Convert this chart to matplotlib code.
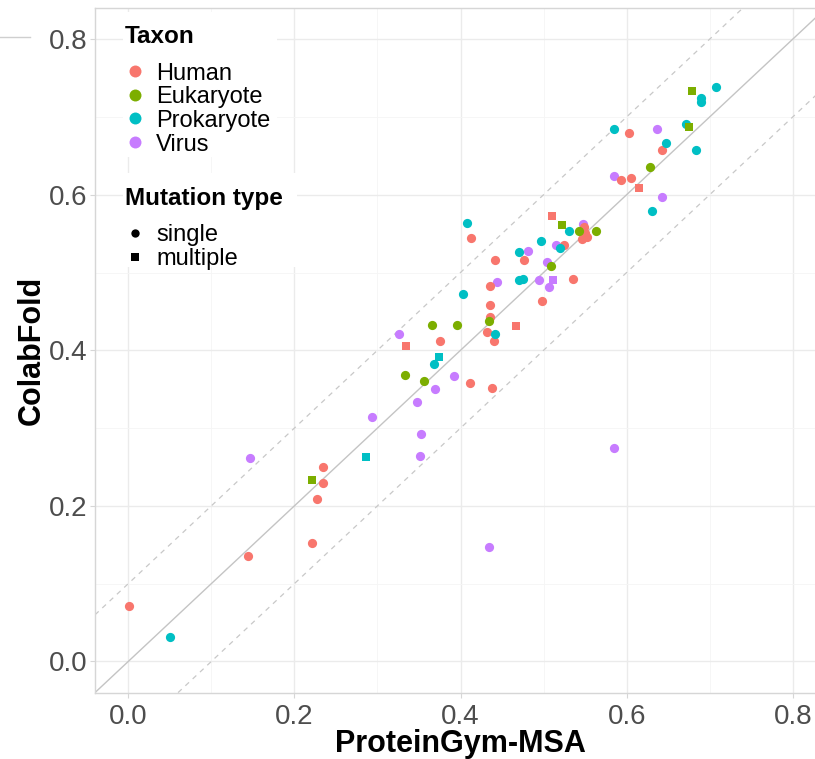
import matplotlib
matplotlib.use("Agg")
import matplotlib.pyplot as plt
from matplotlib.patches import Rectangle
from matplotlib.lines import Line2D
import numpy as np

plt.rcParams['font.family'] = ['Liberation Sans', 'DejaVu Sans']

# ---------------- data ----------------
taxa = ['Human', 'Eukaryote', 'Prokaryote', 'Virus']
taxon_colors = ['#F8766D', '#7CAE00', '#00BFC4', '#C77CFF']
mutation_types = ['single', 'multiple']

human_single_x = [0.001, 0.144, 0.221, 0.227, 0.234, 0.235, 0.375, 0.412, 0.435, 0.436,
                  0.432, 0.440, 0.438, 0.498, 0.413, 0.441, 0.436, 0.477, 0.525, 0.536,
                  0.549, 0.546, 0.552, 0.550, 0.603, 0.643, 0.593, 0.605]
human_single_y = [0.071, 0.136, 0.152, 0.209, 0.229, 0.250, 0.412, 0.358, 0.458, 0.443,
                  0.423, 0.412, 0.352, 0.463, 0.544, 0.516, 0.483, 0.516, 0.535, 0.492,
                  0.559, 0.543, 0.546, 0.551, 0.679, 0.658, 0.619, 0.622]
human_multi_x = [0.334, 0.467, 0.510, 0.615]
human_multi_y = [0.405, 0.431, 0.573, 0.608]

euk_single_x = [0.333, 0.356, 0.366, 0.396, 0.434, 0.509, 0.543, 0.563, 0.628]
euk_single_y = [0.368, 0.361, 0.433, 0.433, 0.438, 0.509, 0.553, 0.553, 0.636]
euk_multi_x = [0.221, 0.522, 0.679, 0.675]
euk_multi_y = [0.233, 0.561, 0.733, 0.687]

prok_single_x = [0.050, 0.368, 0.442, 0.408, 0.403, 0.471, 0.470, 0.475, 0.497, 0.520,
                 0.531, 0.707, 0.690, 0.690, 0.672, 0.585, 0.647, 0.684, 0.631]
prok_single_y = [0.031, 0.382, 0.421, 0.563, 0.472, 0.526, 0.491, 0.492, 0.540, 0.532,
                 0.553, 0.739, 0.724, 0.719, 0.691, 0.685, 0.666, 0.657, 0.579]
prok_multi_x = [0.286, 0.374]
prok_multi_y = [0.263, 0.391]

virus_single_x = [0.146, 0.293, 0.326, 0.348, 0.352, 0.351, 0.369, 0.392, 0.585, 0.434,
                  0.444, 0.481, 0.495, 0.515, 0.504, 0.507, 0.548, 0.637, 0.585, 0.643]
virus_single_y = [0.262, 0.314, 0.421, 0.333, 0.293, 0.264, 0.350, 0.367, 0.274, 0.147,
                  0.488, 0.527, 0.490, 0.535, 0.513, 0.481, 0.562, 0.684, 0.624, 0.597]
virus_multi_x = [0.511]
virus_multi_y = [0.490]

# drawing order (later = on top)
series = [
    (virus_single_x, virus_single_y, 3, 'single'),
    (virus_multi_x, virus_multi_y, 3, 'multiple'),
    (human_single_x, human_single_y, 0, 'single'),
    (human_multi_x, human_multi_y, 0, 'multiple'),
    (prok_single_x, prok_single_y, 2, 'single'),
    (prok_multi_x, prok_multi_y, 2, 'multiple'),
    (euk_single_x, euk_single_y, 1, 'single'),
    (euk_multi_x, euk_multi_y, 1, 'multiple'),
]

ticks = [0.0, 0.2, 0.4, 0.6, 0.8]
minor_ticks = [0.1, 0.3, 0.5, 0.7]
tick_labels = ['0.0', '0.2', '0.4', '0.6', '0.8']

# ---------------- figure ----------------
W, H = 815, 759
fig = plt.figure(figsize=(W / 100, H / 100), dpi=100)
fig.patch.set_facecolor('white')

def fx(px):
    return px / W

def fy(py):
    return 1 - py / H

left, right, top, bottom = 95.0, 826.0, 8.0, 692.6
ax = fig.add_axes([fx(left), fy(bottom), (right - left) / W, (bottom - top) / H])
ax.set_xlim(-0.04, 0.84)
ax.set_ylim(-0.04, 0.84)
ax.set_axisbelow(True)

border = '#d6d6d6'
for s in ['left', 'bottom', 'top']:
    ax.spines[s].set_color(border)
    ax.spines[s].set_linewidth(1.0)
ax.spines['right'].set_visible(False)

ax.set_xticks(ticks)
ax.set_yticks(ticks)
ax.set_xticklabels(tick_labels)
ax.set_yticklabels(tick_labels)
ax.set_xticks(minor_ticks, minor=True)
ax.set_yticks(minor_ticks, minor=True)
ax.tick_params(which='major', length=3.6, width=0.8, color=border,
               labelsize=20, labelcolor='#4d4d4d', pad=2)
ax.tick_params(axis='x', which='major', pad=4.5)
ax.tick_params(which='minor', length=0)
ax.grid(which='major', color='#ebebeb', linewidth=1.0)
ax.grid(which='minor', color='#f5f5f5', linewidth=0.6)

# reference lines
ax.axline((0, 0), slope=1, color='#c4c4c4', linewidth=1.0, zorder=1.5)
ax.axline((0, 0.1), slope=1, color='#c8c8c8', linewidth=0.9, dashes=(4, 4), zorder=1.5)
ax.axline((0, -0.1), slope=1, color='#c8c8c8', linewidth=0.9, dashes=(4, 4), zorder=1.5)

# points
for xs, ys, ti, mt in series:
    if mt == 'single':
        ax.scatter(xs, ys, s=44, marker='o', color=taxon_colors[ti], linewidths=0, zorder=3)
    else:
        ax.scatter(xs, ys, s=40, marker='s', color=taxon_colors[ti], linewidths=0, zorder=3)

# axis titles
fig.text(fx(460), fy(752), 'ProteinGym-MSA', ha='center', va='baseline',
         fontsize=22, fontweight='bold', color='black')
fig.text(fx(40), fy(350), 'ColabFold', ha='center', va='baseline', rotation=90,
         rotation_mode='anchor', fontsize=22, fontweight='bold', color='black')

# ---------------- legend (ggplot-like, inside panel) ----------------
ax.add_patch(Rectangle((fx(123), fy(157)), (277 - 123) / W, (157 - 12) / H,
                       transform=fig.transFigure, facecolor='white', edgecolor='none',
                       zorder=1.8))
ax.add_patch(Rectangle((fx(123), fy(267)), (297 - 123) / W, (267 - 173) / H,
                       transform=fig.transFigure, facecolor='white', edgecolor='none',
                       zorder=1.8))

fig.text(fx(125), fy(43), 'Taxon', ha='left', va='baseline', fontsize=17.5,
         fontweight='bold', color='black')
row0, dy = 71.0, 23.7
for i, (name, col) in enumerate(zip(taxa, taxon_colors)):
    yy = row0 + i * dy
    ax.plot([fx(135)], [fy(yy)], marker='o', ms=8.6, color=col, mew=0,
            transform=fig.transFigure, clip_on=False, zorder=4)
    fig.text(fx(156), fy(yy + 8.5), name, ha='left', va='baseline', fontsize=17,
             color='black')

fig.text(fx(125), fy(205), 'Mutation type', ha='left', va='baseline', fontsize=17.5,
         fontweight='bold', color='black')
for i, (mt, mk, ms) in enumerate(zip(mutation_types, ['o', 's'], [6.0, 5.3])):
    yy = 233 + i * 24
    ax.plot([fx(135)], [fy(yy)], marker=mk, ms=ms, color='black', mew=0,
            transform=fig.transFigure, clip_on=False, zorder=4)
    fig.text(fx(156), fy(yy + 8.5), mt, ha='left', va='baseline', fontsize=17,
             color='black')

# stray gridline fragment at the top-left (from neighbouring panel)
fig.add_artist(Line2D([0, fx(30)], [fy(37), fy(37)], color='#cfcfcf', linewidth=1.0))

fig.savefig('out.png', dpi=100)
